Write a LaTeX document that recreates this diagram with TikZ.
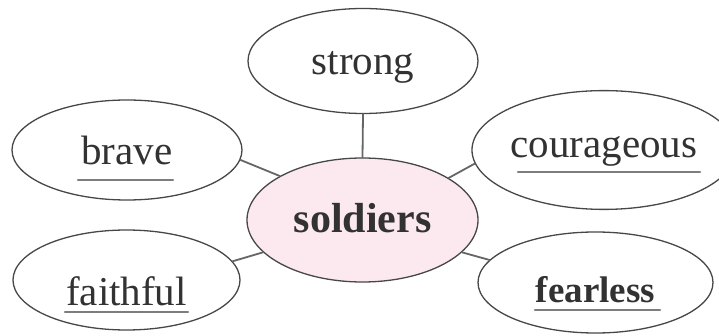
\documentclass[tikz,border=0pt]{standalone}
\usepackage{fontspec}
\setmainfont{Liberation Serif}
\usetikzlibrary{shapes.geometric}
\definecolor{inkgray}{RGB}{50,50,50}
\definecolor{rulegray}{RGB}{125,125,125}
\definecolor{soldpink}{RGB}{252,233,240}

\begin{document}
\begin{tikzpicture}[x=1pt,y=-1pt,line cap=round,line join=round,
  bubble/.style={ellipse,draw=black!72,line width=1.3pt,inner sep=0pt,minimum width=230pt,minimum height=100pt,text=inkgray,text height=50pt,font=\fontsize{41}{46}\selectfont},
  spoke/.style={draw=black!60,line width=1.8pt},
  uline/.style={rulegray,line width=2.4pt}]
\useasboundingbox (0,0) rectangle (719,336);
% the centre word
\node[bubble,fill=soldpink,minimum width=231pt,minimum height=124pt,text depth=24pt,font=\fontsize{42}{46}\selectfont\bfseries] (soldiers) at (362.5,220) {soldiers};
% the five words round it
\node[bubble,minimum height=105pt,text depth=22pt] (strong) at (363,61) {strong};
\node[bubble,text depth=20pt] (brave) at (127,150) {brave};
\node[bubble,minimum width=224pt,text depth=34pt] (courageous) at (604,150) {courageous};
\node[bubble,minimum width=227pt,text depth=0pt] (faithful) at (126.5,280) {faithful};
\node[bubble,minimum width=235pt,minimum height=101pt,text depth=10pt,font=\fontsize{37}{42}\selectfont\bfseries] (fearless) at (595.5,282.5) {fearless};
% spokes
\draw[spoke] (soldiers.90) -- (strong.-90);
\draw[spoke] (soldiers.152.5) -- (brave.-5);
\draw[spoke] (soldiers.26.2) -- (courageous.-174);
\draw[spoke] (soldiers.-162.3) -- (faithful.10.2);
\draw[spoke] (soldiers.-18.2) -- (fearless.168.7);
% underlines
\draw[uline] ([shift={(-49,30)}]brave.center) -- ++(95,0);
\draw[uline] ([shift={(-86,22)}]courageous.center) -- ++(182,0);
\draw[uline] ([shift={(-61.5,32)}]faithful.center) -- ++(123,0);
\draw[uline] ([shift={(-60.5,27.5)}]fearless.center) -- ++(125,0);
\end{tikzpicture}
\end{document}
